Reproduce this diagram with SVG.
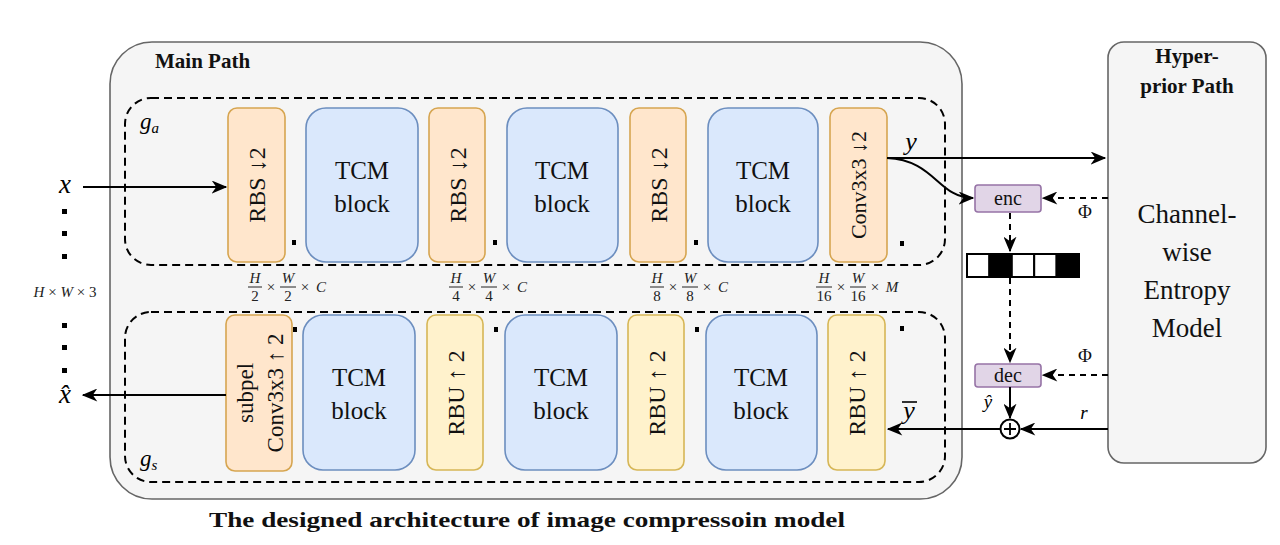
<svg xmlns="http://www.w3.org/2000/svg" width="1280" height="545" viewBox="0 0 1280 545">
<defs>
<marker id="ahb" viewBox="0 0 12 10" refX="11" refY="5" markerWidth="16" markerHeight="13" markerUnits="userSpaceOnUse" orient="auto">
<path d="M0,0 L12,5 L0,10 L3.5,5 z" fill="#000"/>
</marker>
</defs>
<style>
.cont{fill:#f5f5f5;stroke:#666;stroke-width:1.6}
.dash{fill:none;stroke:#000;stroke-width:2;stroke-dasharray:8,5}
.orange{fill:#ffe6cc;stroke:#d6a550;stroke-width:1.6}
.yellow{fill:#fff2cc;stroke:#d6b656;stroke-width:1.6}
.blue{fill:#dae8fc;stroke:#6c8ebf;stroke-width:1.6}
.purple{fill:#e1d5e7;stroke:#9673a6;stroke-width:1.6}
text{font-family:"Liberation Serif","Times New Roman",serif}
.t{fill:#111}
.big{font-size:25px;text-anchor:middle}
.rot{font-size:24px;text-anchor:middle}
.it{font-style:italic;fill:#000}
.frac{font-style:italic;font-size:15px;fill:#222;text-anchor:middle}
.fn{font-size:15px;fill:#222;text-anchor:middle}
.sol{fill:none;stroke:#000;stroke-width:2}
.dsh{fill:none;stroke:#000;stroke-width:2;stroke-dasharray:6,5}
.dot{fill:#000}
</style>

<g id="main-path">
<rect class="cont" x="110" y="42" width="852" height="457" rx="42"/>
<text class="t" x="155" y="68" font-size="21" font-weight="bold">Main Path</text>
</g>

<g id="hyperprior-path">
<rect class="cont" x="1108" y="42" width="158" height="421" rx="16"/>
<text class="t" x="1187" y="63" font-size="21" font-weight="bold" text-anchor="middle">Hyper-</text>
<text class="t" x="1187" y="93" font-size="21" font-weight="bold" text-anchor="middle">prior Path</text>
<text class="t" x="1187" y="223" font-size="27" text-anchor="middle" fill="#333">Channel-</text>
<text class="t" x="1187" y="261" font-size="27" text-anchor="middle" fill="#333">wise</text>
<text class="t" x="1187" y="299" font-size="27" text-anchor="middle" fill="#333">Entropy</text>
<text class="t" x="1187" y="337" font-size="27" text-anchor="middle" fill="#333">Model</text>
</g>

<g id="ga">
<rect class="dash" x="125" y="98" width="820" height="167" rx="26"/>
<text class="it" x="140" y="129" font-size="23">g<tspan font-size="15" dy="4">a</tspan></text>
</g>
<g id="gs">
<rect class="dash" x="125" y="312" width="820" height="170" rx="26"/>
<text class="it" x="140" y="466" font-size="23">g<tspan font-size="15" dy="4">s</tspan></text>
</g>

<g id="rbs1"><rect class="orange" x="228" y="108" width="57" height="154" rx="9"/>
<text class="t rot" transform="translate(265,185) rotate(-90)">RBS ↓2</text></g>
<g id="tcm1"><rect class="blue" x="306" y="108" width="112" height="154" rx="20"/>
<text class="t big" x="362" y="179">TCM</text><text class="t big" x="362" y="212">block</text></g>
<g id="rbs2"><rect class="orange" x="429" y="108" width="56" height="154" rx="9"/>
<text class="t rot" transform="translate(466,185) rotate(-90)">RBS ↓2</text></g>
<g id="tcm2"><rect class="blue" x="507" y="108" width="111" height="154" rx="20"/>
<text class="t big" x="562" y="179">TCM</text><text class="t big" x="562" y="212">block</text></g>
<g id="rbs3"><rect class="orange" x="630" y="108" width="56" height="154" rx="9"/>
<text class="t rot" transform="translate(667,185) rotate(-90)">RBS ↓2</text></g>
<g id="tcm3"><rect class="blue" x="708" y="108" width="110" height="154" rx="20"/>
<text class="t big" x="763" y="179">TCM</text><text class="t big" x="763" y="212">block</text></g>
<g id="conv-down"><rect class="orange" x="830" y="108" width="57" height="154" rx="9"/>
<text class="t" font-size="22" text-anchor="middle" transform="translate(866,185) rotate(-90)">Conv3x3 ↓2</text></g>

<g id="subpel"><rect class="orange" x="226" y="315" width="66" height="156" rx="9"/>
<text class="t" font-size="23" text-anchor="middle" transform="translate(253,393) rotate(-90)">subpel</text>
<text class="t" font-size="23" text-anchor="middle" transform="translate(283,393) rotate(-90)">Conv3x3 ↑ 2</text></g>
<g id="tcm4"><rect class="blue" x="303" y="315" width="112" height="155" rx="20"/>
<text class="t big" x="359" y="386">TCM</text><text class="t big" x="359" y="419">block</text></g>
<g id="rbu1"><rect class="yellow" x="427" y="315" width="56" height="155" rx="9"/>
<text class="t rot" transform="translate(464,393) rotate(-90)">RBU ↑ 2</text></g>
<g id="tcm5"><rect class="blue" x="505" y="315" width="112" height="155" rx="20"/>
<text class="t big" x="561" y="386">TCM</text><text class="t big" x="561" y="419">block</text></g>
<g id="rbu2"><rect class="yellow" x="628" y="315" width="56" height="155" rx="9"/>
<text class="t rot" transform="translate(665,393) rotate(-90)">RBU ↑ 2</text></g>
<g id="tcm6"><rect class="blue" x="706" y="315" width="111" height="155" rx="20"/>
<text class="t big" x="761" y="386">TCM</text><text class="t big" x="761" y="419">block</text></g>
<g id="rbu3"><rect class="yellow" x="828" y="315" width="57" height="155" rx="9"/>
<text class="t rot" transform="translate(865,393) rotate(-90)">RBU ↑ 2</text></g>

<g id="enc"><rect class="purple" x="975" y="185" width="66" height="27" rx="3"/>
<text class="t" x="1008" y="205" font-size="20" text-anchor="middle">enc</text></g>
<g id="dec"><rect class="purple" x="975" y="364" width="66" height="23" rx="3"/>
<text class="t" x="1008" y="382" font-size="20" text-anchor="middle">dec</text></g>

<g id="bitstream">
<rect x="967" y="254" width="22.4" height="23" fill="#fff" stroke="#000" stroke-width="2"/>
<rect x="989.4" y="254" width="22.4" height="23" fill="#000" stroke="#000" stroke-width="2"/>
<rect x="1011.8" y="254" width="22.4" height="23" fill="#fff" stroke="#000" stroke-width="2"/>
<rect x="1034.2" y="254" width="22.4" height="23" fill="#fff" stroke="#000" stroke-width="2"/>
<rect x="1056.6" y="254" width="22.4" height="23" fill="#000" stroke="#000" stroke-width="2"/>
</g>

<g id="adder">
<circle cx="1010" cy="429" r="9.5" fill="#fff" stroke="#000" stroke-width="2"/>
<path d="M1004,429 H1016 M1010,423 V435" stroke="#000" stroke-width="1.8"/>
</g>

<g id="dims">
<g transform="translate(255,0)"><text class="frac" x="0" y="283">H</text><line x1="-7" y1="287" x2="7" y2="287" stroke="#222"/><text class="fn" x="0" y="301">2</text></g>
<text class="fn" x="271" y="292">×</text>
<g transform="translate(288,0)"><text class="frac" x="0" y="283">W</text><line x1="-8" y1="287" x2="8" y2="287" stroke="#222"/><text class="fn" x="0" y="301">2</text></g>
<text class="fn" x="305" y="292">×</text><text class="frac" x="321" y="292">C</text>

<g transform="translate(456,0)"><text class="frac" x="0" y="283">H</text><line x1="-7" y1="287" x2="7" y2="287" stroke="#222"/><text class="fn" x="0" y="301">4</text></g>
<text class="fn" x="472" y="292">×</text>
<g transform="translate(489,0)"><text class="frac" x="0" y="283">W</text><line x1="-8" y1="287" x2="8" y2="287" stroke="#222"/><text class="fn" x="0" y="301">4</text></g>
<text class="fn" x="506" y="292">×</text><text class="frac" x="522" y="292">C</text>

<g transform="translate(657,0)"><text class="frac" x="0" y="283">H</text><line x1="-7" y1="287" x2="7" y2="287" stroke="#222"/><text class="fn" x="0" y="301">8</text></g>
<text class="fn" x="673" y="292">×</text>
<g transform="translate(690,0)"><text class="frac" x="0" y="283">W</text><line x1="-8" y1="287" x2="8" y2="287" stroke="#222"/><text class="fn" x="0" y="301">8</text></g>
<text class="fn" x="707" y="292">×</text><text class="frac" x="723" y="292">C</text>

<g transform="translate(824,0)"><text class="frac" x="0" y="283">H</text><line x1="-8" y1="287" x2="8" y2="287" stroke="#222"/><text class="fn" x="0" y="301">16</text></g>
<text class="fn" x="841" y="292">×</text>
<g transform="translate(858,0)"><text class="frac" x="0" y="283">W</text><line x1="-8" y1="287" x2="8" y2="287" stroke="#222"/><text class="fn" x="0" y="301">16</text></g>
<text class="fn" x="875" y="292">×</text><text class="frac" x="892" y="292">M</text>

<text class="frac" x="65" y="297" font-size="17">H <tspan font-style="normal">×</tspan> W <tspan font-style="normal">×</tspan> <tspan font-style="normal">3</tspan></text>
</g>

<g id="dots">
<rect class="dot" x="62" y="209" width="5" height="5"/>
<rect class="dot" x="62" y="231" width="5" height="5"/>
<rect class="dot" x="62" y="254" width="5" height="5"/>
<rect class="dot" x="62" y="323" width="5" height="5"/>
<rect class="dot" x="62" y="345" width="5" height="5"/>
<rect class="dot" x="62" y="368" width="5" height="5"/>
<rect class="dot" x="292" y="240" width="4" height="5"/>
<rect class="dot" x="493" y="240" width="4" height="5"/>
<rect class="dot" x="694" y="240" width="4" height="5"/>
<rect class="dot" x="900" y="241" width="4" height="5"/>
<rect class="dot" x="293" y="327" width="4" height="5"/>
<rect class="dot" x="494" y="327" width="4" height="5"/>
<rect class="dot" x="695" y="327" width="4" height="5"/>
<rect class="dot" x="900" y="326" width="4" height="5"/>
</g>

<g id="labels">
<text class="it" x="65" y="193" font-size="27" text-anchor="middle">x</text>
<text class="it" x="65" y="403" font-size="27" text-anchor="middle">x̂</text>
<text class="it" x="911" y="150" font-size="26" text-anchor="middle">y</text>
<text class="it" x="909" y="419" font-size="26" text-anchor="middle">y</text>
<line x1="902" y1="402" x2="917" y2="402" stroke="#000" stroke-width="1.6"/>
<text class="it" x="988" y="408" font-size="19" text-anchor="middle">ŷ</text>
<text class="it" x="1084" y="419" font-size="19" text-anchor="middle">r</text>
<text class="t" x="1085" y="218" font-size="19" text-anchor="middle">Φ</text>
<text class="t" x="1085" y="362" font-size="19" text-anchor="middle">Φ</text>
</g>

<g id="connectors">
<path class="sol" d="M83,187 H226" marker-end="url(#ahb)"/>
<path class="sol" d="M226,395 H83" marker-end="url(#ahb)"/>
<path class="sol" d="M887,158 H1105" marker-end="url(#ahb)"/>
<path class="sol" d="M887,158 C935,160 938,198 973,198" marker-end="url(#ahb)"/>
<path class="dsh" d="M1108,198 H1043" marker-end="url(#ahb)"/>
<path class="dsh" d="M1010,213 V251" marker-end="url(#ahb)"/>
<path class="dsh" d="M1010,278 V362" marker-end="url(#ahb)"/>
<path class="dsh" d="M1108,375 H1043" marker-end="url(#ahb)"/>
<path class="sol" d="M1010,387 V418" marker-end="url(#ahb)"/>
<path class="sol" d="M1108,429 H1021" marker-end="url(#ahb)"/>
<path class="sol" d="M1000,429 H888" marker-end="url(#ahb)"/>
</g>

<text class="t" x="527" y="527" font-size="21" font-weight="bold" text-anchor="middle" fill="#000" textLength="636" lengthAdjust="spacingAndGlyphs">The designed architecture of  image compressoin model</text>
</svg>
